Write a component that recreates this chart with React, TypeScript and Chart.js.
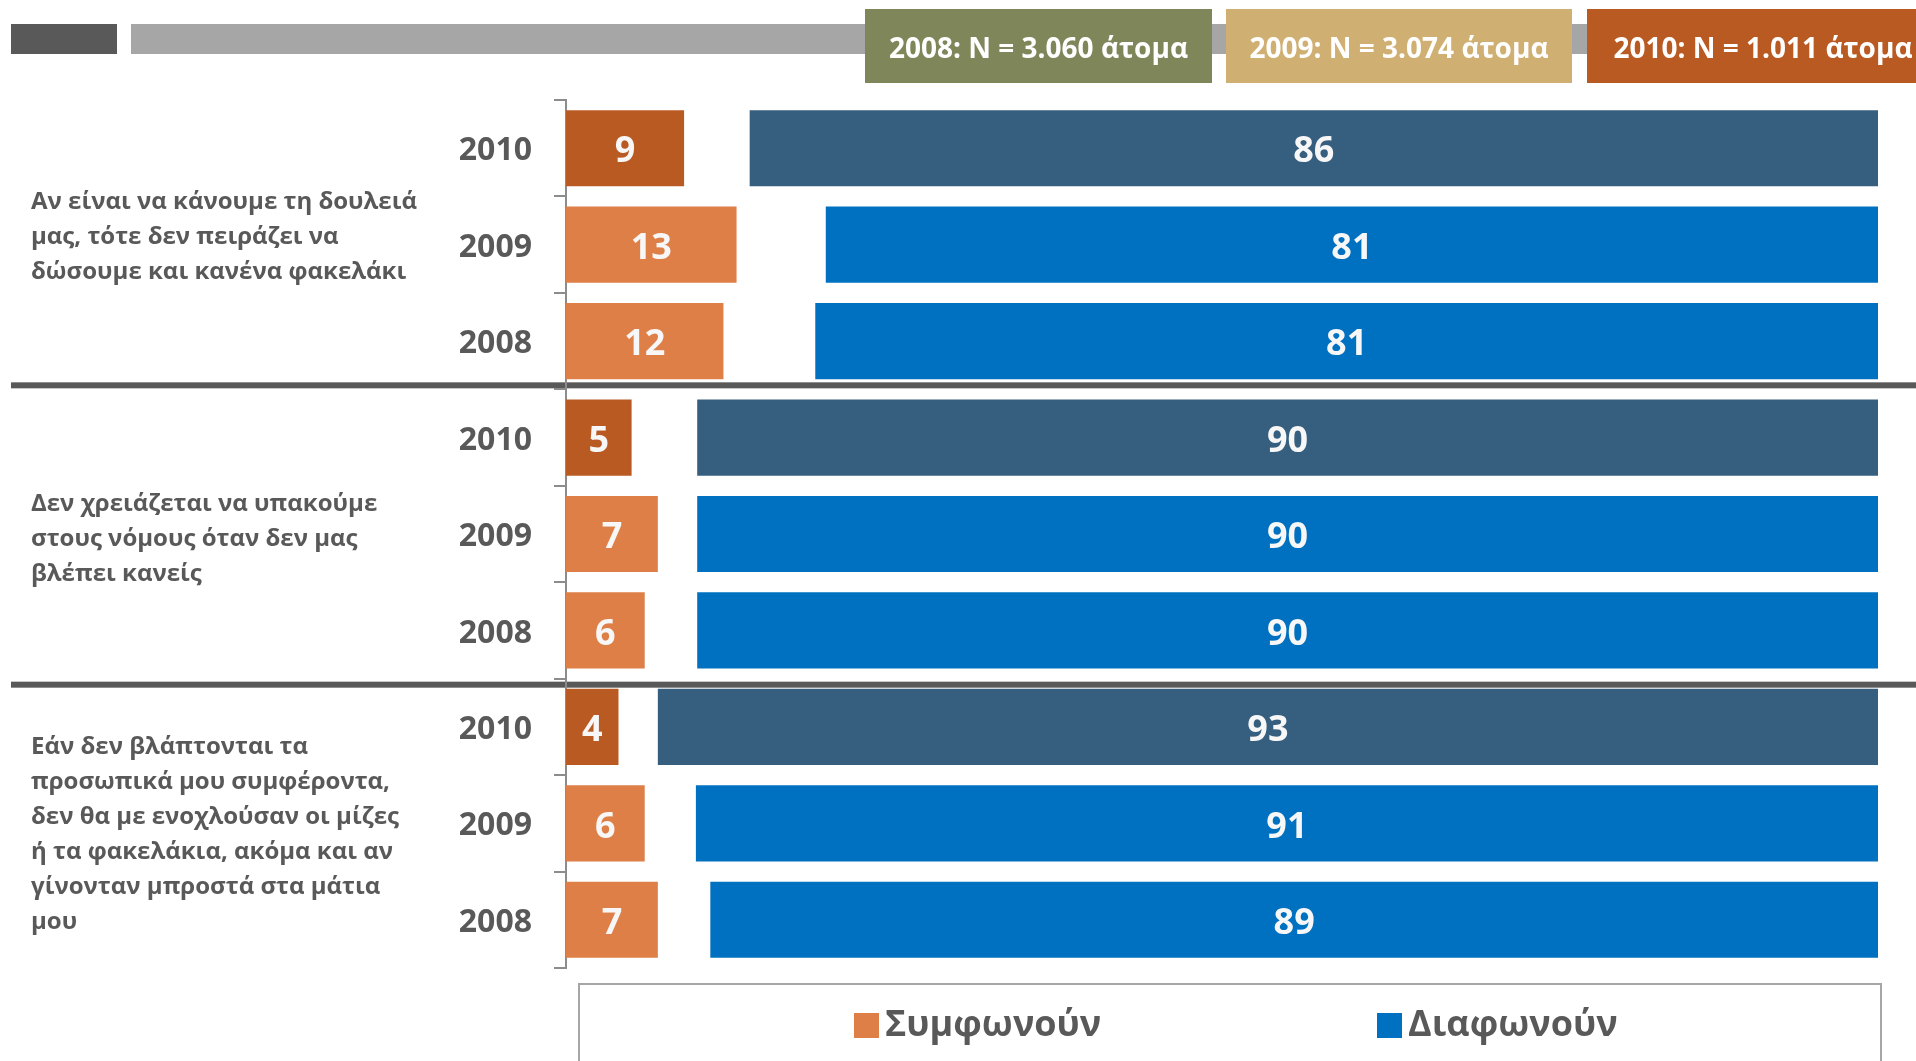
import React, { useEffect, useRef } from "react";
import { Chart, registerables } from "chart.js";

Chart.register(...registerables);

const yearLabels = ["2010", "2009", "2008", "2010", "2009", "2008", "2010", "2009", "2008"];
const agreeValues = [9, 13, 12, 5, 7, 6, 4, 6, 7];
// bar lengths as drawn in the picture
const disagreeValues = [86, 80.2, 81, 90, 90, 90, 93, 90.1, 89];
// numbers printed on the bars
const agreeLabels = ["9", "13", "12", "5", "7", "6", "4", "6", "7"];
const disagreeLabels = ["86", "81", "81", "90", "90", "90", "93", "91", "89"];
const questionLines = [
  ["Αν είναι να κάνουμε τη δουλειά", "μας, τότε δεν πειράζει να", "δώσουμε και κανένα φακελάκι"],
  ["Δεν χρειάζεται να υπακούμε", "στους νόμους όταν δεν μας", "βλέπει κανείς"],
  [
    "Εάν δεν βλάπτονται τα",
    "προσωπικά μου συμφέροντα,",
    "δεν θα με ενοχλούσαν οι μίζες",
    "ή τα φακελάκια, ακόμα και αν",
    "γίνονταν μπροστά στα μάτια",
    "μου",
  ],
];
const sampleLabels = ["2008: N = 3.060 άτομα", "2009: N = 3.074 άτομα", "2010: N = 1.011 άτομα"];
const legendLabels = ["Συμφωνούν", "Διαφωνούν"];

const FONT = "'Open Sans', 'Noto Sans', sans-serif";
const GRAY_TEXT = "#595959";
const ORANGE_DARK = "#B95A23";
const ORANGE = "#DE7F47";
const BLUE_DARK = "#365E7E";
const BLUE = "#0070C0";

const gapValues = agreeValues.map((a, i) => Math.max(0, 100 - a - disagreeValues[i]));
const agreeColors = yearLabels.map((y) => (y === "2010" ? ORANGE_DARK : ORANGE));
const disagreeColors = yearLabels.map((y) => (y === "2010" ? BLUE_DARK : BLUE));

const decoPlugin = {
  id: "deco",
  beforeDraw(chart: any) {
    const ctx = chart.ctx as CanvasRenderingContext2D;
    const W = chart.width;
    ctx.save();
    ctx.fillStyle = "#ffffff";
    ctx.fillRect(0, 0, W, chart.height);

    // header strip
    ctx.fillStyle = "#595959";
    ctx.fillRect(11, 24, 106, 30);
    ctx.fillStyle = "#A6A6A6";
    ctx.fillRect(131, 24, W - 131, 30);

    const boxes = [
      { x: 865, w: 347, c: "#7F8659" },
      { x: 1226, w: 346, c: "#D0B072" },
      { x: 1587, w: 352, c: "#B95A23" },
    ];
    boxes.forEach((b, i) => {
      ctx.fillStyle = b.c;
      ctx.fillRect(b.x, 9, b.w, 74);
      ctx.fillStyle = "#ffffff";
      ctx.font = `bold 28px ${FONT}`;
      ctx.textAlign = "center";
      ctx.textBaseline = "middle";
      ctx.fillText(sampleLabels[i], b.x + b.w / 2, 50);
    });

    // group separators
    const y = chart.scales.y;
    const sepOffsets = [-4, 6];
    [2.5, 5.5].forEach((v, i) => {
      const py = y.getPixelForValue(v) + sepOffsets[i];
      ctx.fillStyle = "#595959";
      ctx.fillRect(11, py - 3, W - 11, 6);
    });

    // question labels
    ctx.fillStyle = GRAY_TEXT;
    ctx.font = `bold 24px ${FONT}`;
    ctx.textAlign = "left";
    ctx.textBaseline = "alphabetic";
    const firstBaselineOffsets = [-36, -23, -69];
    questionLines.forEach((lines, g) => {
      const center = y.getPixelForValue(g * 3 + 1);
      const base = center + firstBaselineOffsets[g];
      lines.forEach((line, k) => {
        ctx.fillText(line, 31, base + k * 35);
      });
    });

    // legend box
    const lx = 579;
    const ly = 984;
    ctx.strokeStyle = "#A6A6A6";
    ctx.lineWidth = 2;
    ctx.strokeRect(lx, ly, 1302, 120);
    const items = [
      { sx: 854, c: ORANGE },
      { sx: 1377, c: BLUE },
    ];
    ctx.font = `bold 36px ${FONT}`;
    ctx.textBaseline = "middle";
    ctx.textAlign = "left";
    items.forEach((it, i) => {
      ctx.fillStyle = it.c;
      ctx.fillRect(it.sx, 1013, 25, 25);
      ctx.fillStyle = GRAY_TEXT;
      ctx.fillText(legendLabels[i], it.sx + 31, 1026);
    });
    ctx.restore();
  },
  afterDatasetsDraw(chart: any) {
    const ctx = chart.ctx as CanvasRenderingContext2D;
    ctx.save();
    ctx.font = `bold 36px ${FONT}`;
    ctx.fillStyle = "#F7F7F7";
    ctx.textAlign = "center";
    ctx.textBaseline = "middle";
    [0, 2].forEach((di) => {
      const meta = chart.getDatasetMeta(di);
      const labels = di === 0 ? agreeLabels : disagreeLabels;
      meta.data.forEach((el: any, j: number) => {
        const cx = (el.x + el.base) / 2;
        ctx.fillText(labels[j], cx, el.y + 4);
      });
    });
    ctx.restore();
  },
};

export default function App() {
  const ref = useRef<HTMLCanvasElement | null>(null);
  useEffect(() => {
    if (!ref.current) return;
    const chart = new Chart(ref.current, {
      type: "bar",
      data: {
        labels: yearLabels,
        datasets: [
          {
            label: legendLabels[0],
            data: agreeValues,
            backgroundColor: agreeColors,
            barPercentage: 0.79,
            categoryPercentage: 1,
          },
          {
            label: "gap",
            data: gapValues,
            backgroundColor: "rgba(0,0,0,0)",
            barPercentage: 0.79,
            categoryPercentage: 1,
          },
          {
            label: legendLabels[1],
            data: disagreeValues,
            backgroundColor: disagreeColors,
            barPercentage: 0.79,
            categoryPercentage: 1,
          },
        ],
      },
      options: {
        indexAxis: "y",
        responsive: false,
        animation: false,
        devicePixelRatio: 1,
        layout: { padding: { left: 0, right: 38, top: 100, bottom: 93 } },
        plugins: {
          legend: { display: false },
          tooltip: { enabled: false },
        },
        scales: {
          x: {
            stacked: true,
            min: 0,
            max: 100,
            display: false,
          },
          y: {
            stacked: true,
            afterFit: (scale: any) => {
              scale.width = 566;
            },
            grid: {
              display: true,
              drawOnChartArea: false,
              drawTicks: true,
              tickLength: 12,
              color: "#8C8C8C",
              lineWidth: 2,
              offset: true,
            },
            border: { display: true, color: "#8C8C8C", width: 2 },
            ticks: {
              padding: 22,
              labelOffset: 3,
              color: GRAY_TEXT,
              font: { family: FONT, size: 32, weight: "bold" },
            },
          },
        },
      },
      plugins: [decoPlugin],
    });
    return () => chart.destroy();
  }, []);
  return (
    <div style={{ position: "absolute", left: 0, top: 0, width: 1916, height: 1061, overflow: "hidden" }}>
      <canvas ref={ref} width={1916} height={1061} style={{ width: 1916, height: 1061, display: "block" }} />
    </div>
  );
}
